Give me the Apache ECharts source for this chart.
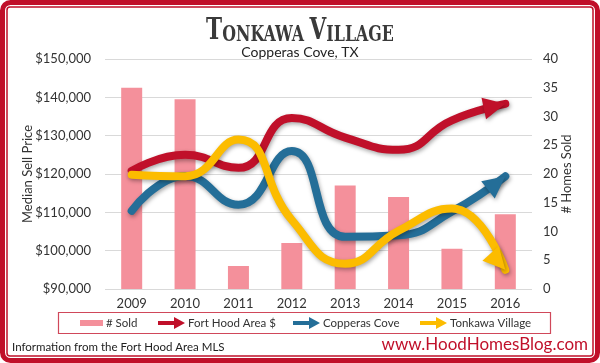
<!DOCTYPE html>
<html>
<head>
<meta charset="utf-8">
<script src="https://cdn.jsdelivr.net/npm/echarts@6/dist/echarts.min.js"></script>
<style>html,body{margin:0;padding:0;background:#fff;}#c{width:600px;height:363px;}</style>
</head>
<body>
<div id="c"></div>
<script>
const years = ['2009','2010','2011','2012','2013','2014','2015','2016'];
const homesSold = [35, 33, 4, 8, 18, 16, 7, 13];
const fortHood = [120800, 125000, 121600, 134600, 129500, 126300, 134000, 138300];
const copperasCove = [110400, 119500, 112000, 126000, 103600, 104000, 110200, 119400];
const tonkawaVillage = [119800, 119400, 129000, 108000, 96600, 105200, 111000, 95000];
const priceTicks = {min: 90000, max: 150000, interval: 10000};
const soldTicks = {min: 0, max: 40, interval: 5};

const RED = '#c0102a', BLUE = '#246e98', YELLOW = '#fcbc00', PINK = '#f4909b';
const FONT = 'Lato';
const chart = echarts.init(document.getElementById('c'), null, {renderer: 'canvas'});

function arrowSeries(name, values, color, angleDeg) {
  const L = 22;
  const a = angleDeg * Math.PI / 180;
  const data = values.map((v, i) => {
    if (i !== values.length - 1) return v;
    return {
      value: v,
      symbol: 'triangle',
      symbolSize: [22, L],
      symbolRotate: angleDeg - 90,
      symbolOffset: [-L / 2 * Math.cos(a), L / 2 * Math.sin(a)]
    };
  });
  return {
    name, type: 'line', yAxisIndex: 0, smooth: 0.5, symbol: 'none', showAllSymbol: true,
    data,
    lineStyle: {color, width: 8, shadowColor: 'rgba(0,0,0,0.35)', shadowBlur: 4, shadowOffsetX: 1, shadowOffsetY: 2, cap: 'round'},
    itemStyle: {color, shadowColor: 'rgba(0,0,0,0.35)', shadowBlur: 4, shadowOffsetX: 1, shadowOffsetY: 2},
    emphasis: {disabled: true}, z: 3
  };
}

const arrowIcon = 'path://M0,4L16,4L16,0L27,6L16,12L16,8L0,8Z';
function leg(name, left, icon, w, h) {
  return {data: [{name, icon}], left, top: 317, itemWidth: w, itemHeight: h, itemGap: 0,
    textStyle: {fontFamily: FONT, fontSize: 11.5, color: '#333', padding: [0, 0, 0, -2]}, selectedMode: false, padding: 0};
}

chart.setOption({
  animation: false,
  backgroundColor: '#fff',
  grid: {left: 105, right: 68, top: 59, bottom: 74},
  xAxis: {
    type: 'category', data: years,
    axisLine: {show: false}, axisTick: {show: false},
    axisLabel: {fontFamily: FONT, fontSize: 13, color: '#333', margin: 8}
  },
  yAxis: [
    {
      type: 'value', min: priceTicks.min, max: priceTicks.max, interval: priceTicks.interval,
      name: 'Median Sell Price', nameLocation: 'middle', nameRotate: 90, nameGap: 71, nameMoveOverlap: false,
      nameTextStyle: {fontFamily: FONT, fontSize: 13, color: '#333'},
      axisLabel: {fontFamily: FONT, fontSize: 13, color: '#333', margin: 14,
        formatter: v => '$' + v.toLocaleString('en-US')},
      splitLine: {lineStyle: {color: '#d9d9d9', width: 1}},
      axisLine: {show: false}, axisTick: {show: false}
    },
    {
      type: 'value', min: soldTicks.min, max: soldTicks.max, interval: soldTicks.interval,
      name: '# Homes Sold', nameLocation: 'middle', nameRotate: 90, nameGap: 28, nameMoveOverlap: false,
      nameTextStyle: {fontFamily: FONT, fontSize: 13, color: '#333'},
      axisLabel: {fontFamily: FONT, fontSize: 13, color: '#333', margin: 11},
      splitLine: {show: false}, axisLine: {show: false}, axisTick: {show: false}
    }
  ],
  legend: [
    leg('# Sold', 80, 'rect', 23, 6),
    leg('Fort Hood Area $', 158, arrowIcon, 27, 12),
    leg('Copperas Cove', 293, arrowIcon, 27, 12),
    leg('Tonkawa Village', 420, arrowIcon, 27, 12)
  ],
  series: [
    {name: '# Sold', type: 'bar', yAxisIndex: 1, data: homesSold, barWidth: 21,
      itemStyle: {color: PINK}, emphasis: {disabled: true}, z: 2},
    arrowSeries('Fort Hood Area $', fortHood, RED, 12),
    arrowSeries('Copperas Cove', copperasCove, BLUE, 38),
    arrowSeries('Tonkawa Village', tonkawaVillage, YELLOW, -48)
  ],
  graphic: [
    {type: 'rect', shape: {x: 2.5, y: 2.5, width: 595, height: 358, r: 8}, style: {fill: 'none', stroke: RED, lineWidth: 5}, silent: true, z: 10},
    {type: 'rect', shape: {x: 7, y: 7, width: 586, height: 349, r: 3}, style: {fill: 'none', stroke: RED, lineWidth: 1.5}, silent: true, z: 10},
    {type: 'rect', shape: {x: 58.5, y: 312.5, width: 492, height: 21}, style: {fill: 'none', stroke: '#d0485a', lineWidth: 1.2}, silent: true, z: 10},
    {type: 'text', x: 300, y: 46, scaleX: 0.72, z: 10, style: {
      text: '{b|T}{s|ONKAWA }{b|V}{s|ILLAGE}', fill: '#333', textAlign: 'center', textVerticalAlign: 'bottom',
      rich: {b: {fontFamily: 'DejaVu Serif', fontWeight: 'bold', fontSize: 30, fill: '#3a3a3a', verticalAlign: 'bottom'},
             s: {fontFamily: 'DejaVu Serif', fontWeight: 'bold', fontSize: 22, fill: '#3a3a3a', verticalAlign: 'bottom'}}
    }},
    {type: 'text', left: 'center', top: 45, z: 10, style: {text: 'Copperas Cove, TX', fontFamily: FONT, fontSize: 14, fill: '#222'}},
    {type: 'text', left: 12, top: 341, z: 10, style: {text: 'Information from the Fort Hood Area MLS', fontFamily: FONT, fontSize: 11.5, fill: '#222'}},
    {type: 'text', right: 12, top: 336, z: 10, style: {text: 'www.HoodHomesBlog.com', fontFamily: FONT, fontSize: 17, fill: RED}}
  ]
});
</script>
</body>
</html>
